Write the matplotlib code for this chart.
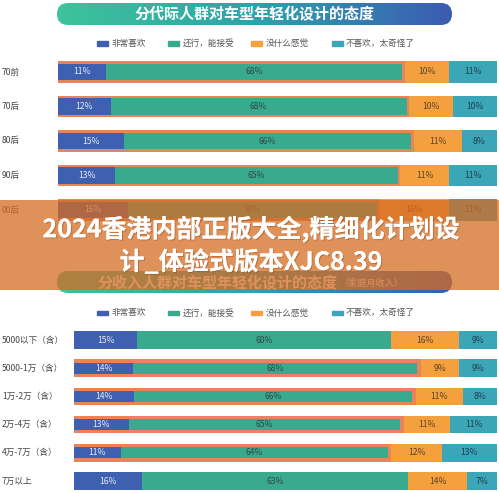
import matplotlib.pyplot as plt
import matplotlib.transforms as mtransforms
import numpy as np
from matplotlib import patheffects
from matplotlib.colors import LinearSegmentedColormap
from matplotlib.patches import FancyBboxPatch, Rectangle

plt.rcParams["font.family"] = ["Noto Sans CJK SC", "DejaVu Sans"]

W, H = 499, 493

SERIES = ["非常喜欢", "还行，能接受", "没什么感觉", "不喜欢，太奇怪了"]
COLORS = ["#3f5fb0", "#3aaa8f", "#f5a03f", "#3aa6b8"]
LABEL_COLORS = ["#e4eaf6", "#2c4a48", "#5a4526", "#233f4a"]
BORDER = "#e8845c"

AGE_GROUPS = ["70前", "70后", "80后", "90后", "00后"]
AGE_VERY_LIKE = [11, 12, 15, 13, 16]
AGE_OK = [68, 68, 66, 65, 58]
AGE_NEUTRAL = [10, 10, 11, 11, 16]
AGE_DISLIKE = [11, 10, 8, 11, 11]
AGE_HIGHLIGHT = [True, True, True, True, True]

INCOME_GROUPS = ["5000以下（含）", "5000-1万（含）", "1万-2万（含）",
                 "2万-4万（含）", "4万-7万（含）", "7万以上"]
INCOME_VERY_LIKE = [15, 14, 14, 13, 11, 16]
INCOME_OK = [60, 68, 66, 65, 64, 63]
INCOME_NEUTRAL = [16, 9, 11, 11, 12, 14]
INCOME_DISLIKE = [9, 9, 8, 11, 13, 7]
INCOME_HIGHLIGHT = [False, True, True, True, True, False]

TITLE_1 = "分代际人群对车型年轻化设计的态度"
TITLE_2 = "分收入人群对车型年轻化设计的态度"
TITLE_2_NOTE = "（家庭月收入）"
OVERLAY_LINES = ["2024香港内部正版大全,精细化计划设", "计_体验式版本XJC8.39"]


def fx(x):
    return x / W


def fy(y):
    return 1 - y / H


def add_axes_px(fig, left, top, right, bottom):
    return fig.add_axes([fx(left), fy(bottom), (right - left) / W, (bottom - top) / H])


def draw_banner(fig, left, top, right, bottom):
    ax = add_axes_px(fig, left, top, right, bottom)
    w, h = right - left, bottom - top
    cmap = LinearSegmentedColormap.from_list("banner", ["#3ec39b", "#2ea3aa", "#3b5bb3"])
    grad = np.linspace(0, 1, 256).reshape(1, -1)
    im = ax.imshow(grad, cmap=cmap, extent=[0, w, 0, h], aspect="auto")
    pill = FancyBboxPatch((0, 0), w, h, boxstyle=f"round,pad=0,rounding_size={h / 2}",
                          transform=ax.transData, facecolor="none", edgecolor="none")
    ax.add_patch(pill)
    im.set_clip_path(pill)
    ax.set_xlim(0, w)
    ax.set_ylim(0, h)
    ax.axis("off")
    return ax


def draw_legend(fig, y):
    box_x = [97, 168, 251, 332]
    text_x = [112, 183, 266, 346]
    for name, color, bx, tx in zip(SERIES, COLORS, box_x, text_x):
        fig.add_artist(Rectangle((fx(bx), fy(y + 2.3)), 11 / W, 4.6 / H,
                                 transform=fig.transFigure, color=color))
        fig.text(fx(tx), fy(y), name, fontsize=6.2, color="#555555", va="center", ha="left")


def draw_chart(fig, ax, cats, series, highlight, full_h, inner_h, pad):
    vals = np.array(series, dtype=float)
    # stretch each row to the full bar length, like the infographic does
    widths = vals / vals.sum(axis=0) * 100
    n = len(cats)
    lefts = np.vstack([np.zeros(n), np.cumsum(widths, axis=0)[:-1]])
    ax.set_xlim(0, 100)
    ax.set_ylim(n - 0.5, -0.5)
    ax.axis("off")
    label_tf = mtransforms.blended_transform_factory(fig.transFigure, ax.transData)
    for i in range(n):
        ax.text(fx(2), i, cats[i], transform=label_tf, fontsize=6.2, color="#444444",
                va="center", ha="left")
        for k in range(4):
            left, width = lefts[k, i], widths[k, i]
            height = full_h
            if highlight[i] and k < 2:
                height = inner_h
                if k == 1:
                    width -= pad
            if highlight[i] and k == 0:
                liked = widths[0, i] + widths[1, i]
                ax.barh(i, liked + pad, left=-pad, height=full_h, color=BORDER, linewidth=0)
            ax.barh(i, width, left=left, height=height, color=COLORS[k], linewidth=0)
            ax.text(left + width / 2, i, f"{int(vals[k, i])}%", fontsize=6.2,
                    color=LABEL_COLORS[k], ha="center", va="center")


def main():
    fig = plt.figure(figsize=(W / 100, H / 100), dpi=100, facecolor="white")

    # chart 1: by generation
    draw_banner(fig, 57, 3, 452, 25)
    fig.text(fx(254), fy(14), TITLE_1, fontsize=10.8, fontweight="bold", color="white",
             ha="center", va="center")
    draw_legend(fig, 43.5)
    ax1 = add_axes_px(fig, 58, 54.75, 497, 227.25)
    draw_chart(fig, ax1, AGE_GROUPS,
               [AGE_VERY_LIKE, AGE_OK, AGE_NEUTRAL, AGE_DISLIKE],
               AGE_HIGHLIGHT, full_h=0.62, inner_h=0.48, pad=0.6)

    # chart 2: by household income
    draw_banner(fig, 57, 271, 452, 293)
    fig.text(fx(97), fy(283), TITLE_2, fontsize=10.8, fontweight="bold", color="white",
             ha="left", va="center")
    fig.text(fx(340), fy(283), TITLE_2_NOTE, fontsize=6.6, color="white",
             ha="left", va="center")
    draw_legend(fig, 313)
    ax2 = add_axes_px(fig, 74, 325.9, 497, 495.1)
    draw_chart(fig, ax2, INCOME_GROUPS,
               [INCOME_VERY_LIKE, INCOME_OK, INCOME_NEUTRAL, INCOME_DISLIKE],
               INCOME_HIGHLIGHT, full_h=0.63, inner_h=0.4, pad=0.85)

    # watermark band over the middle
    fig.add_artist(Rectangle((0, fy(290)), 1, 90 / H, transform=fig.transFigure,
                             facecolor="#d56c23", alpha=0.75, linewidth=0, zorder=5))
    shadow = [patheffects.withSimplePatchShadow(offset=(0.8, -0.8), shadow_rgbFace="#7a3a10",
                                                alpha=0.35),
              patheffects.Normal()]
    for line, y in zip(OVERLAY_LINES, [229, 262]):
        fig.text(fx(251), fy(y), line, fontsize=18, fontweight="bold", color="white",
                 ha="center", va="center", zorder=6, path_effects=shadow)

    fig.savefig("out.png", dpi=100)
    plt.close(fig)


if __name__ == "__main__":
    main()
